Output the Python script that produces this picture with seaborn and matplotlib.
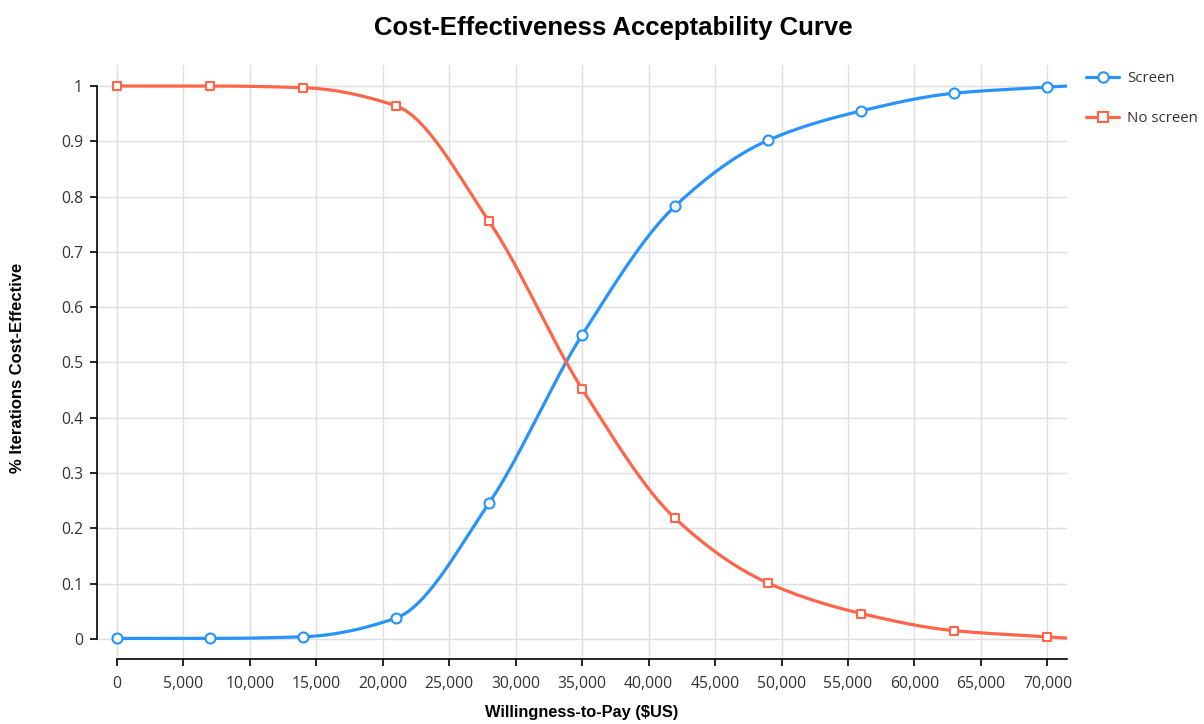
import numpy as np
import pandas as pd
import matplotlib
matplotlib.use('Agg')
import matplotlib.pyplot as plt
import seaborn as sns
from matplotlib.lines import Line2D
from matplotlib.ticker import FuncFormatter

# values
wtp = [0, 7000, 14000, 21000, 28000, 35000, 42000, 49000, 56000, 63000, 70000]
screen = [0.001, 0.001, 0.004, 0.038, 0.246, 0.550, 0.783, 0.902, 0.955, 0.987, 0.998]
no_screen = [1.000, 1.000, 0.997, 0.964, 0.755, 0.452, 0.218, 0.101, 0.046, 0.015, 0.004]
series_names = ['Screen', 'No screen']
xtick_values = list(range(0, 70001, 5000))
ytick_values = [0, 0.1, 0.2, 0.3, 0.4, 0.5, 0.6, 0.7, 0.8, 0.9, 1]

BLUE = '#2894fb'
RED = '#fe6549'
X_MAX = 71480


def monotone_curve(x, y, x_end, n=40):
	# monotone cubic spline (like d3 curveMonotoneX) used only for drawing the line
	x = np.asarray(x, float)
	y = np.asarray(y, float)
	h = np.diff(x)
	d = np.diff(y) / h
	m = np.zeros_like(y)
	m[0] = d[0]
	m[-1] = d[-1]
	for i in range(1, len(x) - 1):
		if d[i - 1] * d[i] <= 0:
			m[i] = 0
		else:
			w1 = 2 * h[i] + h[i - 1]
			w2 = h[i] + 2 * h[i - 1]
			m[i] = (w1 + w2) / (w1 / d[i - 1] + w2 / d[i])
	xs, ys = [], []
	t = np.linspace(0, 1, n, endpoint=False)
	for i in range(len(h)):
		h00 = 2 * t**3 - 3 * t**2 + 1
		h10 = t**3 - 2 * t**2 + t
		h01 = -2 * t**3 + 3 * t**2
		h11 = t**3 - t**2
		xs.extend(x[i] + t * h[i])
		ys.extend(h00 * y[i] + h10 * h[i] * m[i] + h01 * y[i + 1] + h11 * h[i] * m[i + 1])
	xs.append(x[-1])
	ys.append(y[-1])
	xs.append(x_end)
	ys.append(float(np.clip(y[-1] + m[-1] * (x_end - x[-1]), 0, 1)))
	return xs, ys


frames = []
for name, vals in zip(series_names, [screen, no_screen]):
	cx, cy = monotone_curve(wtp, vals, X_MAX)
	frames.append(pd.DataFrame({'wtp': cx, 'share': cy, 'option': name}))
curves = pd.concat(frames, ignore_index = True)

sns.set_theme(style = 'white')
plt.rcParams['font.family'] = ['Open Sans', 'DejaVu Sans']

fig = plt.figure(figsize = (12.04, 7.24), dpi = 100)
ax = fig.add_axes([97 / 1204, 1 - 659 / 724, 970 / 1204, 594 / 724])

sns.lineplot(data = curves, x = 'wtp', y = 'share', hue = 'option', palette = {'Screen': BLUE, 'No screen': RED},
	sort = False, estimator = None, linewidth = 2.3, legend = False, ax = ax, zorder = 2)
sns.scatterplot(x = wtp, y = screen, marker = 'o', s = 52, color = 'white', edgecolor = BLUE, linewidth = 1.5, ax = ax, zorder = 3)
sns.scatterplot(x = wtp, y = no_screen, marker = 's', s = 40, color = 'white', edgecolor = RED, linewidth = 1.5, ax = ax, zorder = 3)

ax.set_xlim(-1505, X_MAX)
ax.set_ylim(-0.0362, 1.038)
ax.set_xticks(xtick_values)
ax.set_yticks(ytick_values)
ax.xaxis.set_major_formatter(FuncFormatter(lambda v, p: '{:,.0f}'.format(v)))
ax.yaxis.set_major_formatter(FuncFormatter(lambda v, p: '{:g}'.format(round(v, 1))))
ax.grid(True, color = '#dedede', linewidth = 1.0)
ax.set_axisbelow(True)

for side in ['top', 'right']:
	ax.spines[side].set_visible(False)
ax.spines['left'].set_bounds(0, 1)
ax.spines['bottom'].set_bounds(0, X_MAX)
for side in ['left', 'bottom']:
	ax.spines[side].set_color('black')
	ax.spines[side].set_linewidth(1.2)
ax.tick_params(axis = 'both', which = 'major', direction = 'out', length = 5, width = 1.2, color = 'black',
	labelsize = 11.3, labelcolor = '#333333', pad = 5, left = True, bottom = True)
ax.tick_params(axis = 'x', pad = 7)

ax.set_xlabel('Willingness-to-Pay ($US)', fontsize = 11.8, fontweight = 'bold', family = 'Liberation Sans', color = 'black')
ax.set_ylabel('% Iterations Cost-Effective', fontsize = 12, fontweight = 'bold', family = 'Liberation Sans', color = 'black')
ax.xaxis.set_label_coords(0.5, -0.078)
ax.yaxis.set_label_coords(-0.074, 0.49)

fig.text(613 / 1204, 1 - 28 / 724, 'Cost-Effectiveness Acceptability Curve', ha = 'center', va = 'center',
	fontsize = 18.5, fontweight = 'bold', family = 'Liberation Sans', color = 'black')

handles = [
	Line2D([], [], color = BLUE, linewidth = 2.3, marker = 'o', markersize = 7.5, markerfacecolor = 'white', markeredgecolor = BLUE, markeredgewidth = 1.5),
	Line2D([], [], color = RED, linewidth = 2.3, marker = 's', markersize = 6.5, markerfacecolor = 'white', markeredgecolor = RED, markeredgewidth = 1.5),
]
fig.legend(handles, series_names, loc = 'upper left', bbox_to_anchor = (1080 / 1204, 1 - 65 / 724), frameon = False,
	fontsize = 10.8, handlelength = 2.2, handletextpad = 0.55, labelspacing = 1.7, labelcolor = '#333333', borderaxespad = 0)

fig.savefig('out.png', dpi = 100)
